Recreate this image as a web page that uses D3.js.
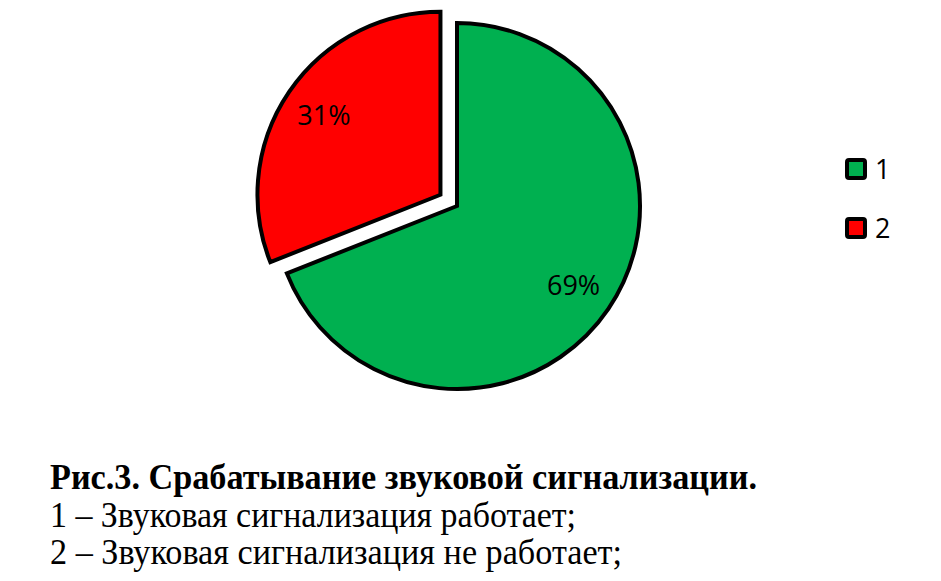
<!DOCTYPE html>
<html>
<head>
<meta charset="utf-8">
<script src="https://cdnjs.cloudflare.com/ajax/libs/d3/7.8.5/d3.min.js"></script>
<style>
  body { margin: 0; background: #fff; }
</style>
</head>
<body>
<svg id="chart" width="941" height="581"></svg>
<script>
// data
var categories = ["1", "2"];
var values = [69, 31];
var colors = ["#00B050", "#FF0000"];
var captionTitle = "Рис.3. Срабатывание звуковой сигнализации.";
var captionLines = ["1 – Звуковая сигнализация работает;", "2 – Звуковая сигнализация не работает;"];

var svg = d3.select("#chart");
var cx = 457, cy = 206, radius = 183, explode = 20;

var pie = d3.pie().sort(null).value(function(d) { return d; });
var arcs = pie(values);
var arc = d3.arc().innerRadius(0).outerRadius(radius);
var labelArc = d3.arc().innerRadius(radius * 0.77).outerRadius(radius * 0.77);

var g = svg.append("g").attr("transform", "translate(" + cx + "," + cy + ")");

function offset(d, i) {
  if (i !== 1) return "translate(0,0)";
  var a = (d.startAngle + d.endAngle) / 2;
  return "translate(" + (Math.sin(a) * explode) + "," + (-Math.cos(a) * explode) + ")";
}

var slices = g.selectAll("g.slice")
  .data(arcs)
  .enter().append("g")
  .attr("class", "slice")
  .attr("transform", offset);

slices.append("path")
  .attr("d", arc)
  .attr("fill", function(d, i) { return colors[i]; })
  .attr("stroke", "#000")
  .attr("stroke-width", 4)
  .attr("stroke-linejoin", "miter");

slices.append("text")
  .attr("transform", function(d) { return "translate(" + labelArc.centroid(d) + ")"; })
  .attr("text-anchor", "middle")
  .attr("dy", "0.36em")
  .style("font-family", "'Open Sans', sans-serif")
  .style("font-size", "27px")
  .attr("fill", "#000")
  .text(function(d) { return d.data + "%"; });

// legend
var legend = svg.append("g").attr("transform", "translate(845,158)");
var item = legend.selectAll("g")
  .data(categories)
  .enter().append("g")
  .attr("transform", function(d, i) { return "translate(0," + (i * 59) + ")"; });

item.append("rect")
  .attr("x", 2).attr("y", 2)
  .attr("width", 18).attr("height", 18)
  .attr("rx", 2)
  .attr("fill", function(d, i) { return colors[i]; })
  .attr("stroke", "#000")
  .attr("stroke-width", 4);

item.append("text")
  .attr("x", 30).attr("y", 21)
  .style("font-family", "'Open Sans', sans-serif")
  .style("font-size", "27px")
  .text(function(d) { return d; });

// caption (condensed serif)
var cap = svg.append("g").style("font-family", "'Liberation Serif', serif").attr("fill", "#000");
cap.append("text")
  .attr("x", 50).attr("y", 489)
  .attr("textLength", 707)
  .attr("lengthAdjust", "spacingAndGlyphs")
  .style("font-size", "36px")
  .style("font-weight", "bold")
  .text(captionTitle);

var lineWidths = [526, 572];
cap.selectAll("text.line")
  .data(captionLines)
  .enter().append("text")
  .attr("class", "line")
  .attr("x", 50)
  .attr("y", function(d, i) { return 527 + i * 37; })
  .attr("textLength", function(d, i) { return lineWidths[i]; })
  .attr("lengthAdjust", "spacingAndGlyphs")
  .style("font-size", "36px")
  .text(function(d) { return d; });
</script>
</body>
</html>
